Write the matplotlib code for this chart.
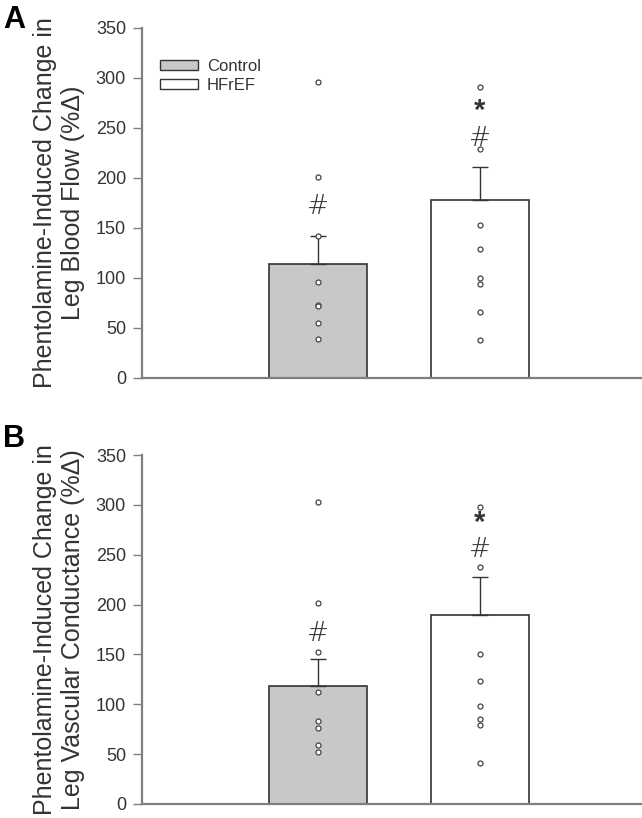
import matplotlib
matplotlib.use("Agg")
import matplotlib.pyplot as plt
import numpy as np
from matplotlib.patches import Patch

plt.rcParams['font.family'] = ['Liberation Sans', 'DejaVu Sans']

groups = ["Control", "HFrEF"]
bar_colors = ["#c8c8c8", "#ffffff"]

# Panel A: Leg Blood Flow
a_means = [114, 178]
a_sem = [28, 33]
a_points = [
    [296, 201, 142, 96, 73, 72, 55, 39],
    [291, 229, 153, 129, 100, 94, 66, 38],
]
a_hash = [171, 240]
a_star = [None, 270]

# Panel B: Leg Vascular Conductance
b_means = [118, 190]
b_sem = [27, 38]
b_points = [
    [303, 202, 152, 112, 83, 76, 59, 52],
    [298, 238, 150, 123, 98, 85, 79, 41],
]
b_hash = [171, 255]
b_star = [None, 285]

ylabels = ["Phentolamine-Induced Change in\nLeg Blood Flow (%\u0394)",
           "Phentolamine-Induced Change in\nLeg Vascular Conductance (%\u0394)"]
yticks = [0, 50, 100, 150, 200, 250, 300, 350]
letters = ["A", "B"]

W, H = 642, 818
fig = plt.figure(figsize=(W / 100, H / 100), dpi=100)

def ax_rect(left, top, bottom, right=642):
    return [left / W, 1 - bottom / H, (right - left) / W, (bottom - top) / H]

axA = fig.add_axes(ax_rect(142, 28, 378))
axB = fig.add_axes(ax_rect(142, 455, 804))

pos = np.array([1.0, 2.0])
width = 0.6
xlim = (1 - 176 / 162, 2 + 162 / 162)
spine_col = "#7f7f7f"
edge_col = "#333333"

panels = [
    (axA, a_means, a_sem, a_points, a_hash, a_star),
    (axB, b_means, b_sem, b_points, b_hash, b_star),
]

for i, (ax, means, sem, pts, hashes, stars) in enumerate(panels):
    ax.bar(pos, means, width=width, color=bar_colors, edgecolor=edge_col,
           linewidth=1.2, zorder=2)
    ax.errorbar(pos, means, yerr=[np.zeros(2), sem], fmt='none',
                ecolor=edge_col, elinewidth=1.0, capsize=6, capthick=1.0, zorder=3)
    for j in range(2):
        ax.plot(np.full(len(pts[j]), pos[j]), pts[j], 'o', ms=3.6,
                mfc='white', mec='#444444', mew=0.9, zorder=4)
        ax.text(pos[j], hashes[j], "#", ha='center', va='center',
                fontsize=19, color='#333333', family='DejaVu Sans',
                fontweight='light', zorder=5)
        if stars[j] is not None:
            ax.text(pos[j], stars[j], "*", ha='center', va='center_baseline',
                    fontsize=21, color='#333333', family='Liberation Sans',
                    fontweight='bold', zorder=5)
    ax.set_xlim(*xlim)
    ax.set_ylim(0, 350)
    ax.set_yticks(yticks)
    ax.set_xticks([])
    for s in ['top', 'right']:
        ax.spines[s].set_visible(False)
    for s in ['left', 'bottom']:
        ax.spines[s].set_color(spine_col)
        ax.spines[s].set_linewidth(1.6)
    ax.tick_params(axis='y', direction='out', length=6.5, width=1.0,
                   color=spine_col, labelsize=13, labelcolor='#333333', pad=5)
    ax.set_ylabel(ylabels[i], fontsize=18, color='#333333', linespacing=1.2)
    ax.yaxis.set_label_coords(-0.114, 0.5)
    ax.patch.set_visible(False)

fig.text(3 / W, 1 - 20 / H, "A", fontsize=22, fontweight='bold', va='center', ha='left')
fig.text(3 / W, 1 - 439 / H, "B", fontsize=22, fontweight='bold', va='center', ha='left')

handles = [Patch(facecolor=bar_colors[k], edgecolor=edge_col, linewidth=1.0, label=groups[k])
           for k in range(2)]
axA.legend(handles=handles, loc='upper left', bbox_to_anchor=(0.005, 0.955),
           frameon=False, fontsize=12, handlelength=2.3, handleheight=0.55,
           handletextpad=0.55, labelspacing=0.25, labelcolor='#333333')

fig.savefig("out.png", dpi=100)
